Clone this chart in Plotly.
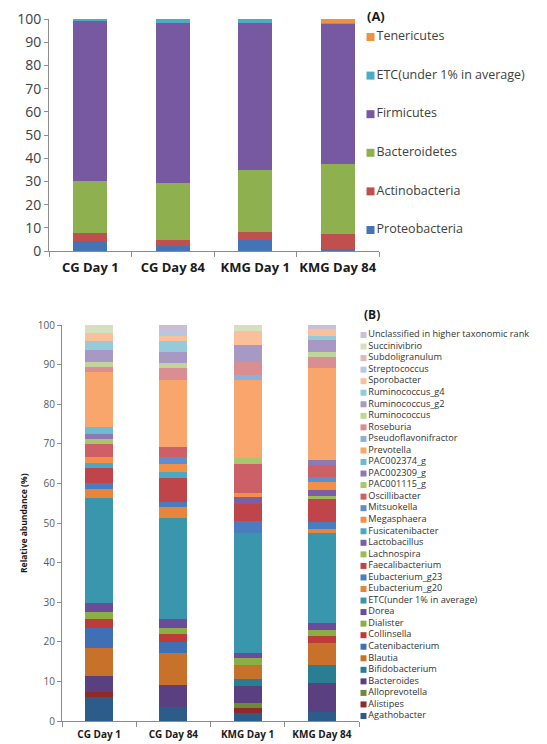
import plotly.graph_objects as go

W, H = 547, 744
OFF = 8  # page body margin of the browser: page coords = figure coords + 8

groups = ["CG Day 1", "CG Day 84", "KMG Day 1", "KMG Day 84"]

# ---------------- Panel A: phyla (values per group) ----------------
phyla = ["Proteobacteria", "Actinobacteria", "Bacteroidetes", "Firmicutes",
         "ETC(under 1% in average)", "Tenericutes"]
proteobacteria = [4.3, 2.0, 4.9, 0.8]
actinobacteria = [3.6, 2.6, 3.3, 6.7]
bacteroidetes = [22.2, 24.5, 26.9, 29.8]
firmicutes = [69.0, 69.2, 63.2, 60.8]
etc_phylum = [0.9, 1.7, 1.7, 0.3]
tenericutes = [0.0, 0.0, 0.0, 1.6]
phyla_colors = ["#4474B4", "#C0504D", "#8FB04E", "#7659A0", "#4BACC6", "#F0913F"]

# ---------------- Panel B: genera (values per group) ----------------
agathobacter = [6.1, 3.6, 1.9, 2.3]
alistipes = [1.3, 0.0, 1.3, 0.0]
alloprevotella = [0.0, 0.0, 1.4, 0.0]
bacteroides = [4.0, 5.5, 4.2, 7.2]
bifidobacterium = [0.0, 0.0, 1.7, 4.6]
blautia = [7.1, 8.0, 3.6, 5.5]
catenibacterium = [4.9, 2.9, 0.0, 0.0]
collinsella = [2.4, 1.9, 0.0, 1.9]
dialister = [1.8, 1.5, 1.7, 1.5]
dorea = [2.1, 2.4, 1.3, 1.7]
etc_genus = [26.5, 25.4, 30.3, 22.7]
eubacterium_g20 = [2.3, 2.9, 0.0, 1.2]
eubacterium_g23 = [1.7, 1.3, 3.0, 1.7]
faecalibacterium = [3.8, 5.9, 4.5, 5.7]
lachnospira = [0.0, 0.0, 0.0, 0.8]
lactobacillus = [0.0, 0.0, 1.6, 1.5]
fusicatenibacter = [1.1, 1.7, 0.0, 0.0]
megasphaera = [1.5, 1.9, 1.1, 2.1]
mitsuokella = [0.0, 1.8, 0.0, 1.3]
oscillibacter = [3.4, 2.6, 7.2, 2.9]
pac001115_g = [1.1, 0.0, 1.7, 0.0]
pac002309_g = [1.5, 0.0, 0.0, 1.3]
pac002374_g = [1.7, 0.0, 0.0, 0.0]
prevotella = [13.9, 16.8, 19.6, 23.2]
pseudoflavonifractor = [0.0, 0.0, 1.4, 0.0]
roseburia = [1.3, 3.0, 3.2, 2.9]
ruminococcus = [1.2, 1.4, 0.0, 1.1]
ruminococcus_g2 = [3.0, 2.8, 4.2, 3.1]
ruminococcus_g4 = [2.3, 2.7, 0.0, 1.1]
sporobacter = [1.9, 1.2, 3.6, 1.7]
streptococcus = [0.0, 1.1, 0.0, 0.0]
subdoligranulum = [0.0, 0.0, 0.0, 0.0]
succinivibrio = [2.1, 0.0, 1.5, 0.0]
unclassified = [0.0, 1.7, 0.0, 1.0]

# stacking order: bottom -> top
genera = [
    ("Agathobacter", agathobacter, "#2C5C8A"),
    ("Alistipes", alistipes, "#8E2B2A"),
    ("Alloprevotella", alloprevotella, "#6E8A38"),
    ("Bacteroides", bacteroides, "#5A4080"),
    ("Bifidobacterium", bifidobacterium, "#2A7E92"),
    ("Blautia", blautia, "#C8712A"),
    ("Catenibacterium", catenibacterium, "#3F6FB4"),
    ("Collinsella", collinsella, "#BE3B3A"),
    ("Dialister", dialister, "#8BAF45"),
    ("Dorea", dorea, "#6B4C9A"),
    ("ETC(under 1% in average)", etc_genus, "#3A96AC"),
    ("Eubacterium_g20", eubacterium_g20, "#E8853A"),
    ("Eubacterium_g23", eubacterium_g23, "#4A7CC0"),
    ("Faecalibacterium", faecalibacterium, "#C0454A"),
    ("Lachnospira", lachnospira, "#9BBB59"),
    ("Lactobacillus", lactobacillus, "#7B5DA8"),
    ("Fusicatenibacter", fusicatenibacter, "#4BA9C4"),
    ("Megasphaera", megasphaera, "#F29048"),
    ("Mitsuokella", mitsuokella, "#5B8FD0"),
    ("Oscillibacter", oscillibacter, "#CC6066"),
    ("PAC001115_g", pac001115_g, "#A9C66F"),
    ("PAC002309_g", pac002309_g, "#8F78B4"),
    ("PAC002374_g", pac002374_g, "#6DBAD2"),
    ("Prevotella", prevotella, "#F9A66C"),
    ("Pseudoflavonifractor", pseudoflavonifractor, "#8DB0DC"),
    ("Roseburia", roseburia, "#DA8E91"),
    ("Ruminococcus", ruminococcus, "#C1D49A"),
    ("Ruminococcus_g2", ruminococcus_g2, "#A898C4"),
    ("Ruminococcus_g4", ruminococcus_g4, "#95CADB"),
    ("Sporobacter", sporobacter, "#FAC09A"),
    ("Streptococcus", streptococcus, "#B4C8E4"),
    ("Subdoligranulum", subdoligranulum, "#E2B8B8"),
    ("Succinivibrio", succinivibrio, "#D6E0C0"),
    ("Unclassified in higher taxonomic rank", unclassified, "#C8C0D8"),
]


def px(x):
    return (x - OFF) / W


def py(y):
    return 1 - (y - OFF) / H


FONT = "Open Sans"
fig = go.Figure()

# Panel A bars
phyla_values = [proteobacteria, actinobacteria, bacteroidetes, firmicutes, etc_phylum, tenericutes]
for name, vals, col in zip(phyla, phyla_values, phyla_colors):
    fig.add_trace(go.Bar(x=groups, y=vals, name=name, marker=dict(color=col, line=dict(width=0)),
                         width=0.41, xaxis="x", yaxis="y", showlegend=False))

# Panel B bars
for name, vals, col in genera:
    fig.add_trace(go.Bar(x=groups, y=vals, name=name, marker=dict(color=col, line=dict(width=0)),
                         width=0.38, xaxis="x2", yaxis="y2", showlegend=False))

# Legend A (custom, top to bottom = reversed stacking order)
a_names = phyla[::-1]
a_cols = phyla_colors[::-1]
a_y0, a_step = 37, 38.6
fig.add_trace(go.Scatter(
    x=[370.5] * len(a_names), y=[a_y0 + i * a_step for i in range(len(a_names))],
    mode="markers+text", text=a_names, textposition="middle right",
    marker=dict(symbol="square", size=8, color=a_cols, line=dict(width=0)),
    textfont=dict(family=FONT, size=12.5, color="#404040"),
    xaxis="x3", yaxis="y3", showlegend=False, hoverinfo="skip", cliponaxis=False))

# Legend B (custom)
b_names = [g[0] for g in genera][::-1]
b_cols = [g[2] for g in genera][::-1]
b_y0, b_step = 335, (716 - 335) / (len(b_names) - 1)
fig.add_trace(go.Scatter(
    x=[363.5] * len(b_names), y=[b_y0 + i * b_step for i in range(len(b_names))],
    mode="markers+text", text=b_names, textposition="middle right",
    marker=dict(symbol="square", size=6, color=b_cols, line=dict(width=0)),
    textfont=dict(family=FONT, size=9.2, color="#333333"),
    xaxis="x3", yaxis="y3", showlegend=False, hoverinfo="skip", cliponaxis=False))

axis_line = "#8C8C8C"
common_x = dict(type="category", showline=True, linecolor=axis_line, linewidth=1,
                ticks="outside", tickson="boundaries", ticklen=5, tickcolor=axis_line,
                showgrid=False, zeroline=False, fixedrange=True, automargin=False, tickangle=0)
common_y = dict(range=[0, 100], dtick=10, showline=True, linecolor=axis_line, linewidth=1,
                ticks="outside", ticklen=4, tickcolor=axis_line, showgrid=False,
                zeroline=False, fixedrange=True, automargin=False)

fig.update_layout(
    template="none",
    width=W, height=H,
    margin=dict(l=0, r=0, t=0, b=0, pad=0),
    paper_bgcolor="white", plot_bgcolor="rgba(0,0,0,0)",
    barmode="stack",
    showlegend=False,
    font=dict(family=FONT),
    xaxis=dict(domain=[px(49), px(379)], anchor="y", ticklabelstandoff=4,
               tickfont=dict(family=FONT, size=13, color="#1A1A1A", weight=700), **common_x),
    yaxis=dict(domain=[py(251), py(19)], anchor="x",
               tickfont=dict(family=FONT, size=14, color="#404040"), **common_y),
    xaxis2=dict(domain=[px(62), px(359)], anchor="y2", ticklabelstandoff=4,
                tickfont=dict(family=FONT, size=10, color="#1A1A1A", weight=700), **common_x),
    yaxis2=dict(domain=[py(721), py(325)], anchor="x2",
                tickfont=dict(family=FONT, size=10, color="#595959"), **common_y),
    xaxis3=dict(domain=[0, 1], range=[OFF, W + OFF], visible=False, fixedrange=True,
                anchor="y3", automargin=False),
    yaxis3=dict(domain=[0, 1], range=[H + OFF, OFF], visible=False, fixedrange=True,
                anchor="x3", automargin=False),
    annotations=[
        dict(text="(A)", x=px(365), y=py(16), xref="paper", yref="paper",
             xanchor="left", yanchor="middle", showarrow=False,
             font=dict(family=FONT, size=13, color="#1A1A1A", weight=700)),
        dict(text="(B)", x=px(362), y=py(314), xref="paper", yref="paper",
             xanchor="left", yanchor="middle", showarrow=False,
             font=dict(family=FONT, size=12, color="#1A1A1A", weight=700)),
        dict(text="Relative abundance (%)", x=px(23), y=py(523), xref="paper", yref="paper",
             xanchor="center", yanchor="middle", showarrow=False, textangle=-90,
             font=dict(family=FONT, size=8.5, color="#1A1A1A", weight=700)),
    ],
)

fig.write_html("out.html")
